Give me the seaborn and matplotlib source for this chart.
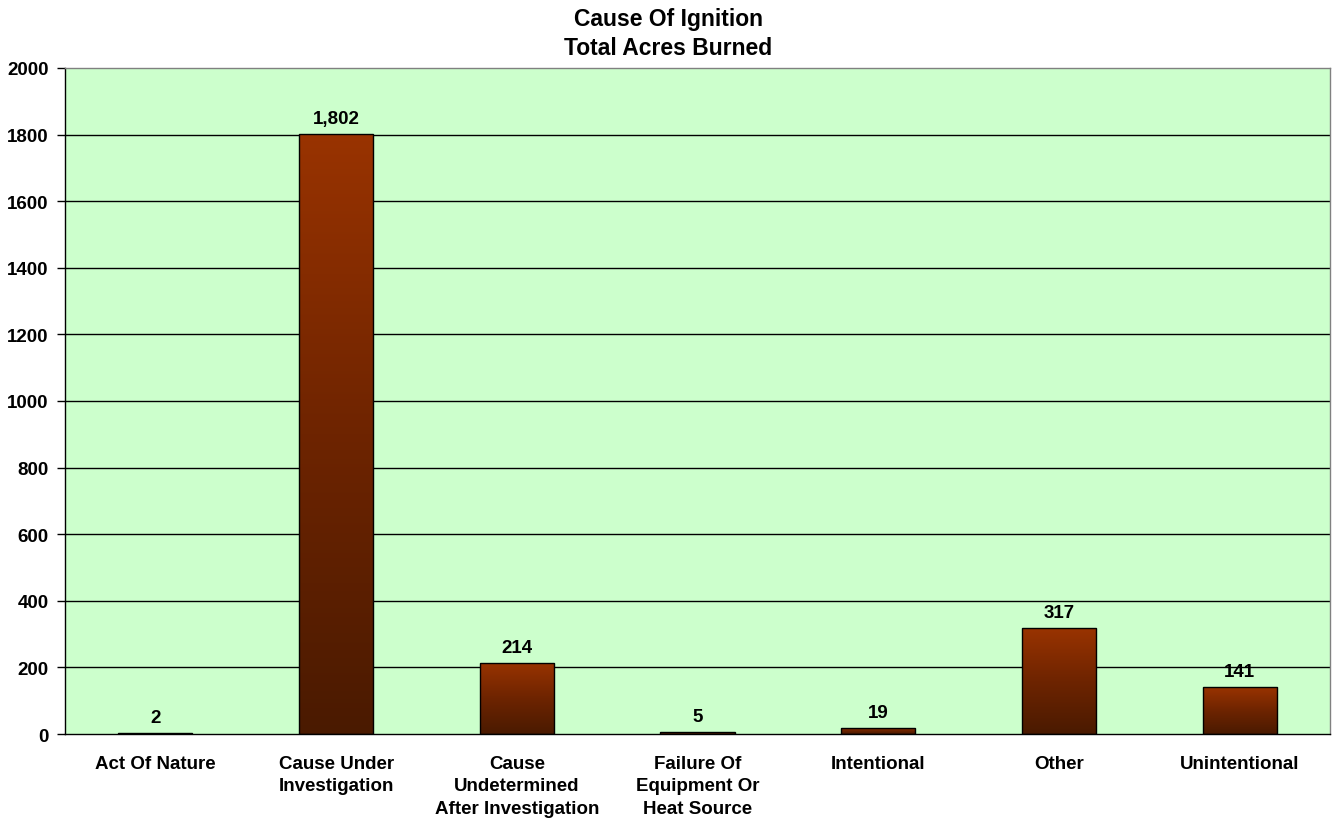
import numpy as np
import pandas as pd
import matplotlib
matplotlib.use("Agg")
import matplotlib.pyplot as plt
from matplotlib.colors import LinearSegmentedColormap
import seaborn as sns

categories = ["Act Of Nature", "Cause Under\nInvestigation",
              "Cause\nUndetermined\nAfter Investigation",
              "Failure Of\nEquipment Or\nHeat Source",
              "Intentional", "Other", "Unintentional"]
acres = [2, 1802, 214, 5, 19, 317, 141]
yticks = list(range(0, 2001, 200))

sns.set_theme(style="white")
plt.rcParams['font.family'] = ['Liberation Sans', 'DejaVu Sans']
plt.rcParams['font.weight'] = 'bold'
plt.rcParams['text.color'] = 'black'
plt.rcParams['xtick.color'] = 'black'
plt.rcParams['ytick.color'] = 'black'
plt.rcParams['xtick.labelcolor'] = 'black'
plt.rcParams['ytick.labelcolor'] = 'black'

df = pd.DataFrame({"cat": categories, "val": acres})

fig = plt.figure(figsize=(13.36, 8.28), dpi=100)
ax = fig.add_axes([0.0487, 0.1123, 0.9468, 0.8044])
ax.set_facecolor("#CCFFCC")

sns.barplot(data=df, x="cat", y="val", color="#993300", width=0.41,
            edgecolor="black", linewidth=1.0, ax=ax, zorder=3)

ax.set_ylim(0, 2000)
ax.set_xlim(-0.5, len(categories) - 0.5)
ax.set_yticks(yticks)
ax.set_yticklabels([str(t) for t in yticks], fontsize=13.5, fontweight="bold")
for t in yticks[1:-1]:
    ax.axhline(t, color="black", lw=1.0, zorder=1)

# gradient fill clipped to bars
cmap = LinearSegmentedColormap.from_list("g", ["#4A1A00", "#6E2400", "#993300"])
grad = np.linspace(0, 1, 256).reshape(-1, 1)
for p in ax.patches:
    x0, y0 = p.get_x(), p.get_y()
    w, h = p.get_width(), p.get_height()
    if h <= 0:
        continue
    im = ax.imshow(grad, cmap=cmap, aspect="auto", origin="lower",
                   extent=[x0, x0 + w, y0, y0 + h], zorder=3.5)
    im.set_clip_path(p)
    p.set_facecolor("none")
    p.set_zorder(4)

ax.set_xlim(-0.5, len(categories) - 0.5)
ax.set_ylim(0, 2000)

# value labels
for i, v in enumerate(acres):
    ax.annotate(f"{v:,}", (i, v), xytext=(0, 8), textcoords="offset points",
                ha="center", va="baseline", fontsize=13.5, fontweight="bold",
                color="black", zorder=5)

ax.set_xticks(range(len(categories)))
ax.set_xticklabels(categories, fontsize=13.5, fontweight="bold", linespacing=1.42)
ax.tick_params(axis="x", length=0, pad=15)
ax.set_xticks(np.arange(-0.5, len(categories), 1), minor=True)
ax.tick_params(axis="x", which="minor", length=6, width=1, color="black", direction="out")
ax.tick_params(axis="y", length=6, width=1, color="black", direction="out", left=True, pad=6)
ax.set_xlabel("")
ax.set_ylabel("")

for s in ["left", "bottom"]:
    ax.spines[s].set_color("black")
    ax.spines[s].set_linewidth(1.0)
for s in ["top", "right"]:
    ax.spines[s].set_color("#808080")
    ax.spines[s].set_linewidth(1.0)
for s in ax.spines.values():
    s.set_visible(True)
    s.set_zorder(6)

fig.text(0.5, 0.9686, "Cause Of Ignition", ha="center", va="baseline",
         fontsize=16.5, fontweight="bold", color="black")
fig.text(0.5, 0.9336, "Total Acres Burned", ha="center", va="baseline",
         fontsize=16.5, fontweight="bold", color="black")

fig.savefig("out.png", dpi=100, facecolor="white")
